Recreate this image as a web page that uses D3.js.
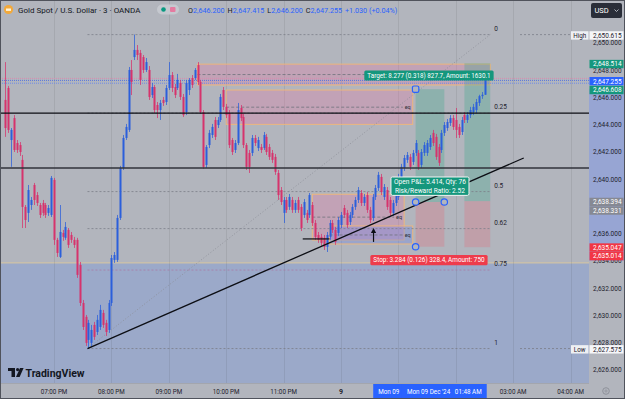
<!DOCTYPE html>
<html>
<head>
<meta charset="UTF-8">
<script src="https://d3js.org/d3.v7.min.js"></script>
<style>
  body { margin: 0; background: #b2b5bd; overflow: hidden; }
  svg { display: block; font-family: Roboto, "Liberation Sans", sans-serif; }
</style>
</head>
<body>
<div id="chart"></div>
<script>
// 3 minute candles, XAUUSD (OANDA), first visible bar 18:09 on Sun 8 Dec 2024
var candleStart = new Date(2024, 11, 8, 18, 9);

var opens = [
  2645.82, 2646.70, 2642.88, 2644.49, 2642.66, 2642.51, 2641.42, 2637.97, 2637.53, 2638.11,
  2639.58, 2638.84, 2638.11, 2638.26, 2638.11, 2637.53, 2637.38, 2639.95, 2635.55, 2634.30,
  2636.06, 2635.70, 2636.28, 2635.91, 2635.55, 2635.55, 2633.71, 2630.92, 2629.90, 2628.21,
  2627.99, 2629.31, 2628.79, 2629.16, 2630.19, 2629.46, 2628.94, 2630.92, 2634.08, 2634.08,
  2637.16, 2640.83, 2643.03, 2643.62, 2648.02, 2648.97, 2649.49, 2649.27, 2648.97, 2648.02,
  2648.02, 2646.18, 2646.77, 2645.45, 2645.08, 2645.82, 2645.67, 2646.70, 2647.65, 2646.77,
  2646.70, 2647.07, 2646.04, 2644.93, 2646.55, 2647.43, 2647.43, 2648.38, 2647.14, 2644.93,
  2641.05, 2642.51, 2643.25, 2644.35, 2643.98, 2644.35, 2646.55, 2645.31, 2644.86, 2642.88,
  2642.15, 2642.66, 2645.23, 2644.57, 2642.51, 2641.93, 2641.93, 2643.03, 2642.29, 2642.37,
  2642.29, 2643.11, 2642.37, 2641.93, 2641.64, 2640.46, 2639.21, 2637.53, 2638.48, 2637.97,
  2638.48, 2637.75, 2638.48, 2637.97, 2637.38, 2637.53, 2637.38, 2638.11, 2636.79, 2635.91,
  2635.77, 2635.70, 2635.04, 2635.77, 2636.79, 2636.28, 2636.06, 2636.64, 2637.89, 2637.53,
  2636.86, 2637.38, 2637.97, 2638.48, 2638.99, 2638.26, 2638.84, 2637.75, 2637.16, 2638.70,
  2639.36, 2640.17, 2638.70, 2639.21, 2638.48, 2637.53, 2638.26, 2638.70, 2640.10, 2640.83,
  2641.42, 2641.64, 2641.27, 2641.93, 2641.93, 2641.05, 2641.93, 2641.93, 2642.37, 2643.40,
  2643.11, 2642.37, 2642.15, 2643.40, 2643.76, 2644.13, 2644.49, 2644.35, 2643.84, 2643.47,
  2644.71, 2644.35, 2644.71, 2644.93, 2645.08, 2645.60, 2646.10, 2646.20
];
var highs = [
  2648.60, 2646.85, 2643.76, 2644.71, 2642.88, 2642.73, 2641.78, 2638.11, 2639.58, 2638.70,
  2639.73, 2639.06, 2638.26, 2638.48, 2638.26, 2638.11, 2640.24, 2640.10, 2635.70, 2638.11,
  2636.28, 2636.86, 2636.42, 2636.13, 2635.77, 2635.70, 2633.93, 2631.14, 2630.04, 2629.68,
  2629.31, 2629.53, 2630.04, 2630.78, 2630.41, 2629.68, 2631.14, 2634.44, 2634.66, 2637.38,
  2640.98, 2643.25, 2644.06, 2648.24, 2648.75, 2650.62, 2649.85, 2649.49, 2649.12, 2648.90,
  2648.31, 2647.07, 2646.92, 2645.67, 2645.82, 2646.04, 2646.92, 2648.60, 2647.87, 2647.00,
  2647.73, 2647.29, 2646.26, 2647.29, 2647.43, 2647.65, 2648.16, 2648.60, 2647.29, 2645.08,
  2642.51, 2643.62, 2644.06, 2644.57, 2644.57, 2646.26, 2646.77, 2645.53, 2645.08, 2643.03,
  2642.88, 2645.60, 2645.45, 2644.79, 2642.66, 2642.15, 2643.25, 2643.25, 2643.11, 2642.59,
  2643.47, 2643.33, 2642.59, 2642.15, 2641.86, 2640.68, 2639.43, 2638.70, 2638.70, 2638.92,
  2638.70, 2638.48, 2638.70, 2638.18, 2638.55, 2637.75, 2638.99, 2638.33, 2637.01, 2636.13,
  2635.99, 2635.91, 2636.13, 2637.01, 2637.01, 2636.50, 2637.23, 2637.60, 2638.11, 2637.75,
  2637.60, 2638.18, 2638.70, 2639.43, 2639.21, 2638.92, 2639.06, 2637.97, 2638.92, 2639.58,
  2640.54, 2640.39, 2639.65, 2639.43, 2638.70, 2638.48, 2639.21, 2640.39, 2641.13, 2641.78,
  2642.00, 2641.86, 2642.15, 2642.88, 2642.15, 2642.22, 2642.73, 2642.88, 2643.25, 2643.62,
  2643.33, 2642.59, 2643.62, 2644.20, 2644.42, 2644.71, 2644.71, 2645.23, 2644.06, 2644.57,
  2644.93, 2644.93, 2645.31, 2645.53, 2645.89, 2646.20, 2646.40, 2647.415
];
var lows = [
  2643.11, 2643.40, 2640.91, 2642.00, 2641.93, 2641.71, 2636.42, 2636.42, 2636.86, 2637.75,
  2638.11, 2638.04, 2637.16, 2637.31, 2637.16, 2637.31, 2637.23, 2635.18, 2634.30, 2634.22,
  2635.48, 2635.55, 2634.96, 2635.33, 2634.96, 2632.76, 2630.70, 2628.94, 2627.77, 2627.58,
  2627.70, 2628.21, 2628.57, 2628.94, 2629.09, 2628.50, 2628.72, 2630.70, 2633.86, 2633.93,
  2637.01, 2640.68, 2642.88, 2643.47, 2646.18, 2648.75, 2648.75, 2646.92, 2647.80, 2647.87,
  2645.82, 2645.96, 2644.86, 2644.49, 2644.35, 2645.38, 2645.45, 2646.55, 2646.40, 2645.96,
  2646.55, 2645.82, 2644.57, 2644.71, 2646.18, 2646.70, 2647.29, 2646.92, 2644.79, 2640.76,
  2640.83, 2642.29, 2643.03, 2642.88, 2643.76, 2644.20, 2645.08, 2644.49, 2642.29, 2641.78,
  2641.93, 2642.51, 2644.27, 2642.29, 2640.68, 2640.46, 2641.71, 2642.44, 2642.07, 2641.93,
  2642.15, 2641.78, 2641.42, 2641.20, 2640.32, 2638.48, 2638.11, 2636.79, 2637.53, 2637.75,
  2637.53, 2637.53, 2637.53, 2636.20, 2637.16, 2636.79, 2637.16, 2636.57, 2635.55, 2635.33,
  2635.11, 2634.81, 2634.66, 2635.55, 2636.06, 2635.18, 2635.84, 2636.42, 2637.16, 2636.42,
  2636.64, 2637.16, 2637.75, 2638.26, 2638.04, 2638.04, 2637.53, 2636.79, 2636.94, 2638.48,
  2639.14, 2638.84, 2638.48, 2637.75, 2637.31, 2637.31, 2638.04, 2638.48, 2639.87, 2640.61,
  2641.20, 2640.68, 2641.05, 2641.71, 2640.68, 2640.83, 2641.71, 2641.71, 2642.15, 2642.44,
  2641.42, 2640.98, 2641.93, 2643.18, 2643.55, 2643.91, 2643.62, 2643.03, 2643.03, 2643.25,
  2644.13, 2644.13, 2644.49, 2644.71, 2644.86, 2645.38, 2645.90, 2646.20
];
var closes = [
  2643.76, 2643.62, 2643.62, 2642.15, 2642.15, 2642.00, 2637.97, 2637.01, 2639.21, 2638.48,
  2638.48, 2638.26, 2637.38, 2637.53, 2637.38, 2637.89, 2640.10, 2635.55, 2634.59, 2636.13,
  2635.77, 2636.50, 2635.18, 2635.55, 2635.18, 2632.98, 2630.92, 2629.16, 2627.99, 2629.46,
  2628.94, 2628.43, 2629.68, 2630.41, 2629.31, 2628.79, 2630.92, 2634.22, 2634.44, 2637.16,
  2640.83, 2643.03, 2643.84, 2648.02, 2647.14, 2649.49, 2649.12, 2647.29, 2648.02, 2648.60,
  2646.04, 2646.77, 2645.08, 2645.08, 2645.60, 2645.60, 2646.70, 2647.65, 2646.70, 2646.18,
  2647.29, 2646.04, 2644.71, 2647.07, 2647.29, 2646.92, 2648.02, 2647.14, 2644.93, 2640.91,
  2642.37, 2643.40, 2643.84, 2643.11, 2644.35, 2646.04, 2645.31, 2644.71, 2642.51, 2642.00,
  2642.66, 2645.08, 2644.49, 2642.51, 2640.91, 2640.91, 2643.03, 2642.66, 2642.88, 2642.15,
  2643.25, 2642.00, 2641.64, 2641.42, 2640.54, 2638.84, 2638.33, 2638.48, 2637.75, 2638.70,
  2637.75, 2638.26, 2637.75, 2636.42, 2638.33, 2637.01, 2638.84, 2636.79, 2635.77, 2635.55,
  2635.33, 2635.04, 2635.91, 2636.79, 2636.28, 2635.40, 2637.01, 2637.38, 2637.38, 2636.64,
  2637.38, 2637.97, 2638.48, 2639.21, 2638.26, 2638.70, 2637.75, 2637.01, 2638.70, 2639.36,
  2640.32, 2639.06, 2639.43, 2637.97, 2637.53, 2638.26, 2638.99, 2640.17, 2640.91, 2641.56,
  2641.78, 2640.91, 2641.93, 2642.66, 2640.91, 2642.00, 2642.51, 2642.66, 2643.03, 2642.66,
  2641.64, 2641.20, 2643.40, 2643.98, 2644.20, 2644.49, 2643.84, 2643.62, 2643.25, 2644.35,
  2644.35, 2644.71, 2645.08, 2645.31, 2645.67, 2646.10, 2646.20, 2647.255
];

// 2,638.000 is fully hidden behind the entry price labels, so it is not listed
var priceTicks = [2650, 2648, 2646, 2644, 2642, 2640, 2636, 2634, 2632, 2630, 2628, 2626];
var hourOffsets = [0, 60, 120, 180, 240, 300, 360, 420, 480, 540];   // minutes after 19:00
// 01:00 and 02:00 sit under the range labels, so they are left blank
var hourLabels = ["07:00 PM", "08:00 PM", "09:00 PM", "10:00 PM", "11:00 PM", "9", "", "", "03:00 AM", "04:00 AM"];

// drawings, times in minutes after 19:00
var fibHigh = 2650.615, fibLow = 2627.575;
var fibLevels = [0, 0.25, 0.5, 0.618, 0.75, 1];
var fibLabels = ["0", "0.25", "0.5", "0.62", "0.75", "1"];
var fibStart = 35, fibEnd = 456;
var trendFrom = [35, 2627.575], trendTo = [491, 2641.56];
var levelLines = [2644.86, 2640.83];
var demandTop = 2633.86;

var zoneStart  = [150, 180, 270, 288];
var zoneEnd    = [456, 375, 366, 375];
var zoneTop    = [2648.45, 2646.55, 2638.90, 2636.57];
var zoneBottom = [2646.92, 2644.03, 2635.54, 2635.25];
var zoneLabels = ["", "eq", "eq", "eq"];

var posStart  = [378, 429];
var posEnd    = [408, 456];
var posEntry  = [2638.331, 2638.394];
var posTarget = [2646.608, 2648.514];
var posStop   = [2635.047, 2635.014];

var swingLine = [260, 288, 2635.62];
var arrowAt = [334, 2635.40, 2636.42];

var askPrice = 2647.40, lastPrice = 2647.255, bidPrice = 2647.05;

var markerPrices = [2648.514, 2647.255, 2646.608, 2638.394, 2638.331, 2635.047, 2635.014];
var markerLabels = ["2,648.514", "2,647.255", "2,646.608", "2,638.394", "2,638.331", "2,635.047", "2,635.014"];
var markerKinds  = ["win", "last", "win", "entry", "entry", "loss", "loss"];

var legendName = "Gold Spot / U.S. Dollar \u00b7 3 \u00b7 OANDA";
var legendOHLC = [["O", "2,646.200"], ["H", "2,647.415"], ["L", "2,646.200"], ["C", "2,647.255"]];
var legendChange = "+1.030 (+0.04%)";

var W = 625, H = 399, axisX = 589, axisY = 383;
var bg = "#b2b5bd", ink = "#1e222d";

function at(min) { return new Date(2024, 11, 8, 19, min); }

var x = d3.scaleTime().domain([at(0), at(540)]).range([54, 570.6]);
var y = d3.scaleLinear().domain([2650, 2626]).range([43, 370]);

var candles = opens.map(function(o, i) {
  return { t: d3.timeMinute.offset(candleStart, i * 3), o: o, h: highs[i], l: lows[i], c: closes[i] };
});

var svg = d3.select("#chart").append("svg").attr("width", W).attr("height", H);

svg.append("rect").attr("width", W).attr("height", H).attr("fill", bg);

// demand area at the bottom
svg.append("rect").attr("x", 0).attr("y", y(demandTop)).attr("width", axisX).attr("height", axisY - y(demandTop))
  .attr("fill", "#9ba9c9");
svg.append("line").attr("x1", 0).attr("x2", axisX).attr("y1", y(demandTop)).attr("y2", y(demandTop))
  .attr("stroke", "#d8c7a0").attr("stroke-width", 1);

// vertical grid
svg.append("g").selectAll("line").data(hourOffsets).join("line")
  .attr("x1", function(d) { return Math.round(x(at(d))) + 0.5; })
  .attr("x2", function(d) { return Math.round(x(at(d))) + 0.5; })
  .attr("y1", 0).attr("y2", axisY)
  .attr("stroke", "rgba(0,0,0,0.07)");

// zones
var zg = svg.append("g");
zoneStart.forEach(function(s, i) {
  var x0 = x(at(s)), x1 = x(at(zoneEnd[i]));
  var y0 = y(zoneTop[i]), y1 = y(zoneBottom[i]);
  zg.append("rect").attr("x", x0).attr("y", y0).attr("width", x1 - x0).attr("height", y1 - y0)
    .attr("fill", i == 3 ? "rgba(105,130,235,0.33)" : "rgba(233,120,165,0.3)")
    .attr("stroke", "#f2b877").attr("stroke-width", 0.9);
  var ym = y((zoneTop[i] + zoneBottom[i]) / 2);
  zg.append("line").attr("x1", x0).attr("x2", zoneLabels[i] ? x1 - 10 : x1).attr("y1", ym).attr("y2", ym)
    .attr("stroke", "#6f727c").attr("stroke-width", 0.8).attr("stroke-dasharray", "3,2");
  if (zoneLabels[i]) {
    zg.append("text").attr("x", x1 - 2).attr("y", ym + 2).attr("text-anchor", "end")
      .attr("font-size", 5.5).attr("fill", "#2a2e39").text(zoneLabels[i]);
  }
});

// long positions
var pg = svg.append("g");
posStart.forEach(function(s, i) {
  var x0 = x(at(s)), x1 = x(at(posEnd[i]));
  pg.append("rect").attr("x", x0).attr("y", y(posTarget[i])).attr("width", x1 - x0)
    .attr("height", y(posEntry[i]) - y(posTarget[i])).attr("fill", "rgba(40,168,130,0.27)");
  pg.append("rect").attr("x", x0).attr("y", y(posEntry[i])).attr("width", x1 - x0)
    .attr("height", y(posStop[i]) - y(posEntry[i])).attr("fill", "rgba(240,80,100,0.22)");
});

// fib retracement
var fg = svg.append("g");
var fx0 = x(at(fibStart)), fx1 = x(at(fibEnd));
fibLevels.forEach(function(lv, i) {
  var yy = y(fibHigh - lv * (fibHigh - fibLow));
  fg.append("line").attr("x1", fx0).attr("x2", fx1).attr("y1", yy).attr("y2", yy)
    .attr("stroke", lv == 0.75 ? "#a97aa4" : "#7b7e88").attr("stroke-width", 0.8).attr("stroke-dasharray", "2,2");
  fg.append("text").attr("x", fx1 + 4).attr("y", yy - 4).attr("font-size", 6.5).attr("fill", ink).text(fibLabels[i]);
});
fg.append("line").attr("x1", fx0).attr("y1", y(fibLow)).attr("x2", fx1).attr("y2", y(fibHigh))
  .attr("stroke", "#8a8d96").attr("stroke-width", 0.8).attr("stroke-dasharray", "1,2");

// bid / ask / last lines
[[askPrice, "#d98cb0"], [lastPrice, "#5676de"], [bidPrice, "#6d8ae6"]].forEach(function(p) {
  svg.append("line").attr("x1", 0).attr("x2", axisX).attr("y1", y(p[0])).attr("y2", y(p[0]))
    .attr("stroke", p[1]).attr("stroke-width", 1).attr("stroke-dasharray", "1,1");
});

// candles
var upCol = "#2b5fdb", downCol = "#d6336c";
var cg = svg.append("g").selectAll("g").data(candles).join("g")
  .attr("fill", function(d) { return d.c >= d.o ? upCol : downCol; })
  .attr("stroke", function(d) { return d.c >= d.o ? upCol : downCol; });
cg.append("line")
  .attr("x1", function(d) { return Math.round(x(d.t)) + 0.5; })
  .attr("x2", function(d) { return Math.round(x(d.t)) + 0.5; })
  .attr("y1", function(d) { return y(d.h); })
  .attr("y2", function(d) { return y(d.l); })
  .attr("stroke-width", 1).attr("stroke-opacity", 0.75);
cg.append("rect")
  .attr("x", function(d) { return Math.round(x(d.t)) - 0.5; })
  .attr("y", function(d) { return y(Math.max(d.o, d.c)); })
  .attr("width", 2)
  .attr("height", function(d) { return Math.max(1, Math.abs(y(d.o) - y(d.c))); })
  .attr("stroke", "none");

// horizontal levels
levelLines.forEach(function(p, i) {
  svg.append("line").attr("x1", 0).attr("x2", axisX).attr("y1", y(p)).attr("y2", y(p))
    .attr("stroke", i == 0 ? "#0c0e14" : "#30333b").attr("stroke-width", i == 0 ? 1.3 : 1.6);
});

// trend line
svg.append("line").attr("x1", x(at(trendFrom[0]))).attr("y1", y(trendFrom[1]))
  .attr("x2", x(at(trendTo[0]))).attr("y2", y(trendTo[1]))
  .attr("stroke", "#0c0e14").attr("stroke-width", 1.3);

// swing low line and arrow
svg.append("line").attr("x1", x(at(swingLine[0]))).attr("x2", x(at(swingLine[1])))
  .attr("y1", y(swingLine[2])).attr("y2", y(swingLine[2])).attr("stroke", "#0c0e14").attr("stroke-width", 1.2);
var ax = x(at(arrowAt[0]));
svg.append("line").attr("x1", ax).attr("x2", ax).attr("y1", y(arrowAt[1])).attr("y2", y(arrowAt[2]) + 4)
  .attr("stroke", "#0c0e14").attr("stroke-width", 1.2);
svg.append("path").attr("d", "M" + ax + "," + y(arrowAt[2]) + "l-2.6,5h5.2z").attr("fill", "#0c0e14");

// labels of the selected position
function labelBox(g, cx, top, lines, fill, fs, border) {
  var texts = lines.map(function(t, i) {
    return g.append("text").attr("x", cx).attr("y", top + 7.4 + i * 8.2).attr("text-anchor", "middle")
      .attr("font-size", fs).attr("fill", "#fff").text(t);
  });
  var w = d3.max(texts, function(t) { return t.node().getComputedTextLength(); }) + 6;
  g.insert("rect", "text").attr("x", cx - w / 2).attr("y", top).attr("width", w).attr("height", lines.length * 8.2 + 2)
    .attr("rx", 1.5).attr("fill", fill).attr("stroke", border || "none").attr("stroke-width", 1);
}
var px0 = x(at(posStart[0])), px1 = x(at(posEnd[0])), pcx = (px0 + px1) / 2;
labelBox(svg.append("g"), pcx - 1, y(posTarget[0]) - 18.8, ["Target: 8.277 (0.318) 827.7, Amount: 1630.1"], "#15977d", 6.3);
labelBox(svg.append("g"), pcx, y(posEntry[0]) - 25, ["Open P&L: 5.414, Qty: 76", "Risk/Reward Ratio: 2.52"], "#15977d", 6.6, "#f4f4f4");
labelBox(svg.append("g"), pcx - 1, y(posStop[0]) + 8.3, ["Stop: 3.284 (0.126) 328.4, Amount: 750"], "#ee3c4c", 6.4);

// handles
var hg = svg.append("g").attr("fill", bg).attr("stroke", "#2962ff").attr("stroke-width", 1.2);
hg.append("rect").attr("x", px0 - 3.2).attr("y", y(posTarget[0]) - 3.2).attr("width", 6.4).attr("height", 6.4).attr("rx", 1.6);
[[px0, posEntry[0]], [px1, posEntry[0]], [px0, posStop[0]]].forEach(function(h) {
  hg.append("circle").attr("cx", h[0]).attr("cy", y(h[1])).attr("r", 3.2);
});

// legend
var lg = svg.append("g");
lg.append("circle").attr("cx", 8.5).attr("cy", 9.5).attr("r", 4.6).attr("fill", "#f2a93b");
lg.append("rect").attr("x", 6).attr("y", 8.5).attr("width", 5).attr("height", 2.4).attr("fill", "#fff3d6");
lg.append("text").attr("x", 18).attr("y", 12.6).attr("font-size", 8).attr("fill", "#131722").text(legendName);
lg.append("rect").attr("x", 157).attr("y", 4.5).attr("width", 22).attr("height", 10).attr("rx", 5).attr("fill", "#c5c8cf");
lg.append("circle").attr("cx", 163.5).attr("cy", 9.5).attr("r", 2.3).attr("fill", "#089981");
lg.append("rect").attr("x", 170).attr("y", 7).attr("width", 5.5).attr("height", 5).attr("rx", 1).attr("fill", "#e57aa0");
var ohlc = lg.append("text").attr("x", 188).attr("y", 12.6).attr("font-size", 7.2);
legendOHLC.forEach(function(p, i) {
  ohlc.append("tspan").attr("fill", "#131722").attr("dx", i ? 3 : 0).text(p[0]);
  ohlc.append("tspan").attr("fill", "#2962ff").text(p[1]);
});
ohlc.append("tspan").attr("fill", "#2962ff").attr("dx", 3).text(legendChange);

// price axis
var pa = svg.append("g");
pa.append("rect").attr("x", axisX).attr("y", 0).attr("width", W - axisX).attr("height", H).attr("fill", bg);
pa.append("rect").attr("x", axisX).attr("y", y(posTarget[0])).attr("width", W - axisX)
  .attr("height", y(posStop[0]) - y(posTarget[0]) + 14).attr("fill", "#97a5d3");
pa.selectAll("text.tick").data(priceTicks).join("text").attr("class", "tick")
  .attr("x", 593).attr("y", function(d) { return y(d) + 2.3; })
  .attr("font-size", 6.5).attr("fill", ink).text(function(d) { return d3.format(",.3f")(d); });

var kindFill = { win: "#15977d", last: "#2962ff", entry: "#868993", loss: "#f23645" };
var prevY = -99;
markerPrices.forEach(function(p, i) {
  var cy = Math.max(y(p) + 0.8, prevY + 8.6);
  prevY = cy;
  pa.append("rect").attr("x", axisX + 0.5).attr("y", cy - 4.2).attr("width", 34).attr("height", 8.4)
    .attr("fill", kindFill[markerKinds[i]]);
  pa.append("text").attr("x", 593).attr("y", cy + 2.3).attr("font-size", 6.5).attr("fill", "#fff").text(markerLabels[i]);
});

[["High", fibHigh, "2,650.615"], ["Low", fibLow, "2,627.575"]].forEach(function(m) {
  var cy = y(m[1]) + 0.8;
  pa.append("line").attr("x1", 520).attr("x2", 571).attr("y1", y(m[1])).attr("y2", y(m[1]))
    .attr("stroke", "#7b7e88").attr("stroke-width", 0.8).attr("stroke-dasharray", "2,2");
  pa.append("rect").attr("x", 571).attr("y", cy - 4.2).attr("width", 17.5).attr("height", 8.4).attr("fill", "#eef0f3");
  pa.append("text").attr("x", 579.7).attr("y", cy + 2.3).attr("text-anchor", "middle").attr("font-size", 6.3).attr("fill", ink).text(m[0]);
  pa.append("rect").attr("x", axisX + 0.5).attr("y", cy - 4.2).attr("width", 34).attr("height", 8.4).attr("fill", "#f5f6f8");
  pa.append("text").attr("x", 593).attr("y", cy + 2.3).attr("font-size", 6.5).attr("fill", ink).text(m[2]);
});

// USD button
pa.append("rect").attr("x", 591).attr("y", 3).attr("width", 31).attr("height", 15).attr("rx", 2).attr("fill", "#2a2e39");
pa.append("text").attr("x", 594.5).attr("y", 13.3).attr("font-size", 7.5).attr("fill", "#fff").text("USD");
pa.append("path").attr("d", "M614.5,9.5l2,2l2,-2").attr("fill", "none").attr("stroke", "#d1d4dc").attr("stroke-width", 0.8);

// time axis
var ta = svg.append("g");
ta.append("rect").attr("x", 0).attr("y", axisY).attr("width", W).attr("height", H - axisY).attr("fill", bg);
ta.append("line").attr("x1", 0).attr("x2", axisX).attr("y1", axisY + 0.5).attr("y2", axisY + 0.5).attr("stroke", "#a3a6ae");
ta.selectAll("text").data(hourOffsets.filter(function(d, i) { return hourLabels[i]; })).join("text")
  .attr("x", function(d) { return x(at(d)); }).attr("y", 393.5).attr("text-anchor", "middle")
  .attr("font-size", function(d) { return d == 300 ? 7 : 6.3; })
  .attr("font-weight", function(d) { return d == 300 ? "bold" : "normal"; })
  .attr("fill", ink).text(function(d) { return hourLabels[hourOffsets.indexOf(d)]; });

// range labels: the end label covers most of the start label, only "Mon 09" of it stays visible
var endText = "Mon 09 Dec '24\u00a0\u00a0\u00a001:48 AM";
var probe = ta.append("text").attr("font-size", 6.3).text(endText);
var lw = probe.node().getComputedTextLength() + 10;
probe.remove();
var sx = x(at(posStart[0])), ex = x(at(posEnd[0]));
ta.append("rect").attr("x", sx - lw / 2).attr("y", axisY + 1).attr("width", lw).attr("height", H - axisY - 1).attr("fill", "#2962ff");
ta.append("text").attr("x", sx - lw / 2 + 5).attr("y", 393.5).attr("font-size", 6.3).attr("fill", "#fff").text("Mon 09");
ta.append("rect").attr("x", ex - lw / 2).attr("y", axisY + 1).attr("width", lw).attr("height", H - axisY - 1).attr("fill", "#2962ff");
ta.append("text").attr("x", ex).attr("y", 393.5).attr("text-anchor", "middle").attr("font-size", 6.3).attr("fill", "#fff").text(endText);

// settings gear
ta.append("circle").attr("cx", 606).attr("cy", 391).attr("r", 3.3).attr("fill", "none").attr("stroke", "#8f929b").attr("stroke-width", 1);
ta.append("circle").attr("cx", 606).attr("cy", 391).attr("r", 1.1).attr("fill", "none").attr("stroke", "#8f929b").attr("stroke-width", 0.8);

// watermark
var wm = svg.append("g").attr("fill", "#131722");
wm.append("rect").attr("x", 8).attr("y", 368).attr("width", 7).attr("height", 3);
wm.append("rect").attr("x", 11.5).attr("y", 368).attr("width", 3.5).attr("height", 9);
wm.append("circle").attr("cx", 17.6).attr("cy", 369.6).attr("r", 1.6);
wm.append("path").attr("d", "M20,368h3.6l-4,9h-3.6z");
wm.append("text").attr("x", 25.5).attr("y", 377).attr("font-size", 10.5).attr("font-weight", "bold").text("TradingView");

// frame
svg.append("rect").attr("x", 0.5).attr("y", 0.5).attr("width", W - 1).attr("height", H - 1)
  .attr("fill", "none").attr("stroke", "#50535c").attr("stroke-width", 1);
</script>
</body>
</html>
